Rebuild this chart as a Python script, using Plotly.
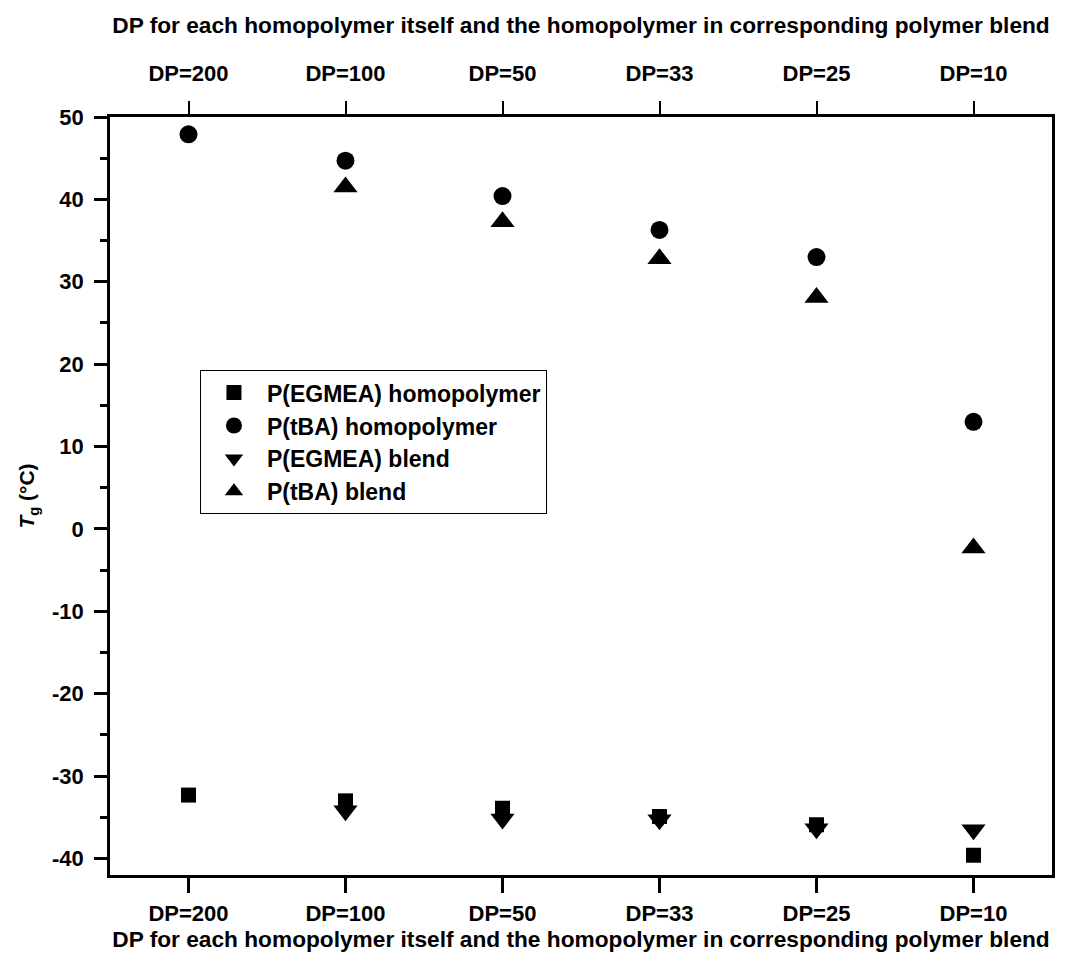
import plotly.graph_objects as go

categories = ["DP=200", "DP=100", "DP=50", "DP=33", "DP=25", "DP=10"]
egmea_homo = [-32.3, -33.0, -33.9, -34.9, -35.9, -39.6]
tba_homo = [47.9, 44.7, 40.4, 36.3, 33.0, 13.0]
egmea_blend = [None, -34.2, -35.2, -35.3, -36.4, -36.5]
tba_blend = [None, 41.5, 37.3, 32.8, 28.1, -2.3]
y_ticks = [-40, -30, -20, -10, 0, 10, 20, 30, 40, 50]
y_ticktext = ["-40", "-30", "-20", "-10", "0", "10", "20", "30", "40", "50"]

xpos = list(range(len(categories)))
font_family = "Liberation Sans, Arial, sans-serif"

fig = go.Figure()
series = [
    ("P(EGMEA) homopolymer", egmea_homo, "square", 15),
    ("P(tBA) homopolymer", tba_homo, "circle", 18),
    ("P(EGMEA) blend", egmea_blend, "triangle-down", 21),
    ("P(tBA) blend", tba_blend, "triangle-up", 21),
]
for name, vals, sym, sz in series:
    fig.add_trace(go.Scatter(
        x=xpos, y=vals, mode="markers", name="<b>%s</b>" % name,
        marker=dict(symbol=sym, size=sz, color="black", line=dict(width=0)),
    ))
# invisible trace for top axis
fig.add_trace(go.Scatter(x=xpos, y=[None]*6, xaxis="x2", showlegend=False, hoverinfo="skip"))

axis_title = "DP for each homopolymer itself and the homopolymer in corresponding polymer blend"
bold_cats = ["<b>%s</b>" % c for c in categories]
fig.update_layout(
    width=1074, height=954,
    margin=dict(l=102, r=30, t=109, b=87, autoexpand=False),
    plot_bgcolor="white", paper_bgcolor="white",
    font=dict(family=font_family, color="black", size=22, weight="bold"),
    xaxis=dict(
        range=[-0.5, 5.5], tickmode="array", tickvals=xpos, ticktext=bold_cats,
        ticks="outside", ticklen=15, tickwidth=2.5, tickcolor="black",
        showline=True, linewidth=2.5, linecolor="black", showgrid=False, zeroline=False,
        tickfont=dict(size=22, weight="bold"), ticklabelstandoff=2, automargin=False,
        title=dict(text="<b>%s</b>" % axis_title, font=dict(size=22.7, weight="bold"), standoff=0),
    ),
    xaxis2=dict(
        overlaying="x", side="top", matches="x", range=[-0.5, 5.5],
        tickmode="array", tickvals=xpos, ticktext=bold_cats,
        ticks="outside", ticklen=13, tickwidth=2, tickcolor="black",
        showline=True, linewidth=2.5, linecolor="black", showgrid=False, zeroline=False,
        tickfont=dict(size=22, weight="bold"), ticklabelstandoff=11, automargin=False,
        title=dict(text="<b>%s</b>" % axis_title, font=dict(size=22.7, weight="bold"), standoff=22),
    ),
    yaxis=dict(
        range=[-42, 50], tickmode="array", tickvals=y_ticks, ticktext=["<b>%s</b>" % t for t in y_ticktext],
        ticks="outside", ticklen=13, tickwidth=2.5, tickcolor="black",
        minor=dict(dtick=5, ticks="outside", ticklen=7, tickwidth=2.5, tickcolor="black", showgrid=False),
        showline=True, mirror=True, linewidth=2.5, linecolor="black", showgrid=False, zeroline=False,
        tickfont=dict(size=22, weight="bold"), ticklabelstandoff=6, automargin=False,
        title=dict(text="<b><i>T</i><sub>g</sub> (°C)</b>", font=dict(size=21, weight="bold"), standoff=12),
    ),
    legend=dict(
        x=0.0955, y=0.666, xanchor="left", yanchor="top",
        bordercolor="black", borderwidth=1, bgcolor="white",
        font=dict(size=23, weight="bold"), itemsizing="trace", tracegroupgap=0,
        itemwidth=56,
    ),
    showlegend=True,
)

fig.write_html("out.html")
